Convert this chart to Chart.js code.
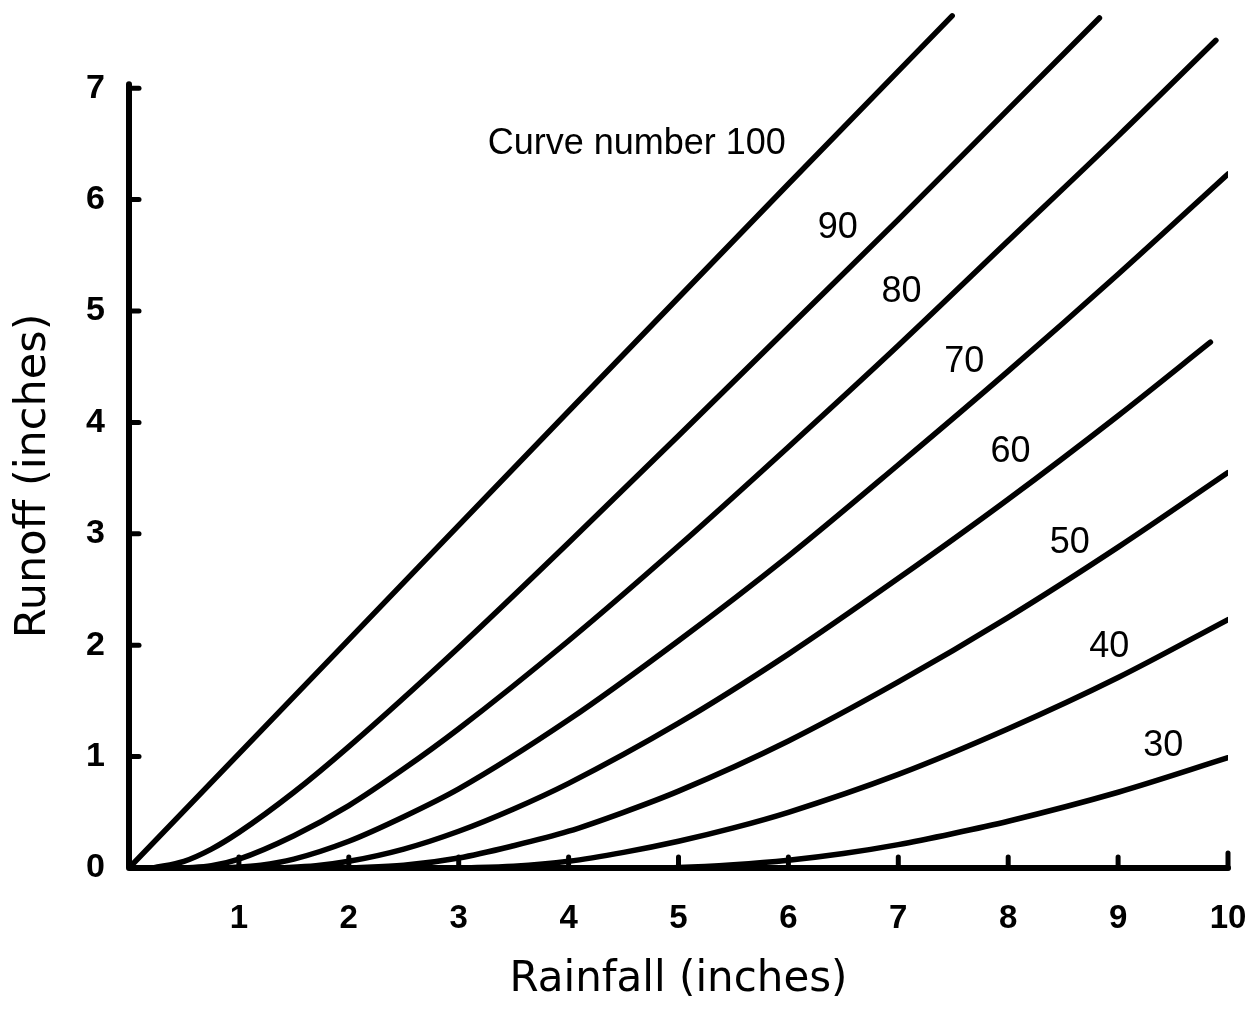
<!DOCTYPE html>
<html>
<head>
<meta charset="utf-8">
<script src="https://cdn.jsdelivr.net/npm/chart.js@4/dist/chart.umd.min.js"></script>
<style>
  html, body { margin: 0; padding: 0; background: #fff; }
  #wrap { width: 1260px; height: 1010px; }
</style>
</head>
<body>
<div id="wrap"><canvas id="graph" width="1260" height="1010"></canvas></div>
<script>
// Rainfall / runoff readings (inches) for each curve number
const curveNumbers = [100, 90, 80, 70, 60, 50, 40, 30];
const curve100 = [[0, 0], [2, 2.05], [4, 4.1], [6, 6.14], [7.49, 7.65]];
const curve90 = [[0.22, 0], [0.5, 0.06], [0.75, 0.17], [1, 0.32], [1.5, 0.68], [2, 1.09], [3, 1.98], [4, 2.92], [5, 3.88], [6, 4.85], [7, 5.82], [8, 6.81], [8.83, 7.63]];
const curve80 = [[0.5, 0], [0.75, 0.02], [1, 0.08], [1.5, 0.29], [2, 0.56], [2.5, 0.89], [3, 1.25], [4, 2.04], [5, 2.89], [6, 3.78], [7, 4.69], [8, 5.63], [9, 6.57], [9.89, 7.43]];
const curve70 = [[0.86, 0], [1.2, 0.025], [1.5, 0.08], [2, 0.24], [2.5, 0.46], [3, 0.71], [4, 1.33], [5, 2.04], [6, 2.8], [7, 3.62], [8, 4.46], [9, 5.33], [10, 6.23]];
const curve60 = [[1.33, 0], [1.7, 0.02], [2, 0.06], [2.5, 0.17], [3, 0.33], [3.5, 0.53], [4, 0.76], [5, 1.3], [6, 1.92], [7, 2.6], [8, 3.31], [9, 4.06], [9.84, 4.72]];
const curve50 = [[2, 0], [2.5, 0.024], [3, 0.09], [3.5, 0.2], [4, 0.33], [4.5, 0.5], [5, 0.69], [6, 1.14], [7, 1.67], [8, 2.25], [9, 2.88], [10, 3.55]];
const curve40 = [[3, 0], [3.5, 0.016], [4, 0.06], [4.5, 0.14], [5, 0.24], [5.5, 0.36], [6, 0.5], [7, 0.84], [8, 1.25], [9, 1.71], [10, 2.23]];
const curve30 = [[4.67, 0], [5, 0.005], [5.5, 0.03], [6, 0.07], [6.5, 0.13], [7, 0.21], [7.5, 0.31], [8, 0.42], [9, 0.68], [10, 0.99]];
const curves = [curve100, curve90, curve80, curve70, curve60, curve50, curve40, curve30];

// Axis ticks
const xTicks = [1, 2, 3, 4, 5, 6, 7, 8, 9, 10];
const yTicks = [0, 1, 2, 3, 4, 5, 6, 7];

// Curve labels and where they sit (in rainfall/runoff units)
const curveLabels = ['Curve number 100', '90', '80', '70', '60', '50', '40', '30'];
const labelAt = [[4.62, 6.5], [6.45, 5.74], [7.03, 5.17], [7.6, 4.54], [8.02, 3.73], [8.56, 2.92], [8.92, 1.98], [9.41, 1.09]];

Chart.defaults.font.family = "'Liberation Sans', Arial, sans-serif";
Chart.defaults.color = '#000';

// Draws axis lines, inward tick marks, curve labels and axis titles
const decor = {
    id: 'decor',
    afterDraw(chart) {
        const ctx = chart.ctx;
        const x = chart.scales.x;
        const y = chart.scales.y;
        const x0 = x.getPixelForValue(0);
        const y0 = y.getPixelForValue(0);
        ctx.save();
        ctx.strokeStyle = '#000';
        ctx.fillStyle = '#000';
        ctx.lineCap = 'round';
        ctx.lineJoin = 'round';

        ctx.lineWidth = 6;
        ctx.beginPath();
        ctx.moveTo(x0, y.getPixelForValue(7) - 4);
        ctx.lineTo(x0, y0);
        ctx.lineTo(x.getPixelForValue(10), y0);
        ctx.stroke();

        ctx.lineWidth = 5;
        yTicks.filter(v => v > 0).forEach(v => {
            const py = y.getPixelForValue(v);
            ctx.beginPath();
            ctx.moveTo(x0, py);
            ctx.lineTo(x0 + 10, py);
            ctx.stroke();
        });
        xTicks.forEach(v => {
            const px = x.getPixelForValue(v);
            ctx.beginPath();
            ctx.moveTo(px, y0);
            ctx.lineTo(px, y0 - (v === 10 ? 15 : 11));
            ctx.stroke();
        });

        ctx.font = "36px 'Liberation Sans', Arial, sans-serif";
        ctx.textAlign = 'center';
        ctx.textBaseline = 'middle';
        curveLabels.forEach((txt, i) => {
            ctx.fillText(txt, x.getPixelForValue(labelAt[i][0]), y.getPixelForValue(labelAt[i][1]));
        });

        ctx.font = "42px 'DejaVu Sans', sans-serif";
        ctx.fillText('Rainfall (inches)', (x.left + x.right) / 2, y0 + 112);
        ctx.font = "43px 'DejaVu Sans', sans-serif";
        ctx.save();
        ctx.translate(34, y.getPixelForValue(3.52));
        ctx.rotate(-Math.PI / 2);
        ctx.fillText('Runoff (inches)', 0, 0);
        ctx.restore();
        ctx.restore();
    }
};

const chart = new Chart(document.getElementById('graph').getContext('2d'), {
    type: 'scatter',
    data: {
        datasets: curves.map((pts, i) => ({
            label: 'CN ' + curveNumbers[i],
            data: pts.map(p => ({ x: p[0], y: p[1] })),
            showLine: true,
            borderColor: '#000',
            borderWidth: 5.5,
            borderCapStyle: 'round',
            pointRadius: 0,
            cubicInterpolationMode: 'monotone',
            fill: false
        }))
    },
    options: {
        responsive: false,
        animation: false,
        layout: { padding: { left: 0, right: 32, top: 8, bottom: 0 } },
        plugins: {
            legend: { display: false },
            tooltip: { enabled: false }
        },
        scales: {
            x: {
                type: 'linear',
                min: 0,
                max: 10,
                border: { display: false },
                grid: { display: false, drawTicks: false },
                afterBuildTicks: s => { s.ticks = xTicks.map(v => ({ value: v })); },
                afterFit: s => { s.height = 142; s.paddingLeft = 0; s.paddingRight = 0; },
                ticks: {
                    padding: 31,
                    maxRotation: 0,
                    autoSkip: false,
                    font: { size: 33, weight: 'bold', family: "'Liberation Sans Narrow', 'Liberation Sans', sans-serif" }
                }
            },
            y: {
                type: 'linear',
                min: 0,
                max: 7.72,
                border: { display: false },
                grid: { display: false, drawTicks: false },
                afterBuildTicks: s => { s.ticks = yTicks.map(v => ({ value: v })); },
                afterFit: s => { s.width = 129; s.paddingTop = 0; s.paddingBottom = 0; },
                ticks: {
                    padding: 24,
                    font: { size: 34, weight: 'bold' }
                }
            }
        }
    },
    plugins: [decor]
});
</script>
</body>
</html>
